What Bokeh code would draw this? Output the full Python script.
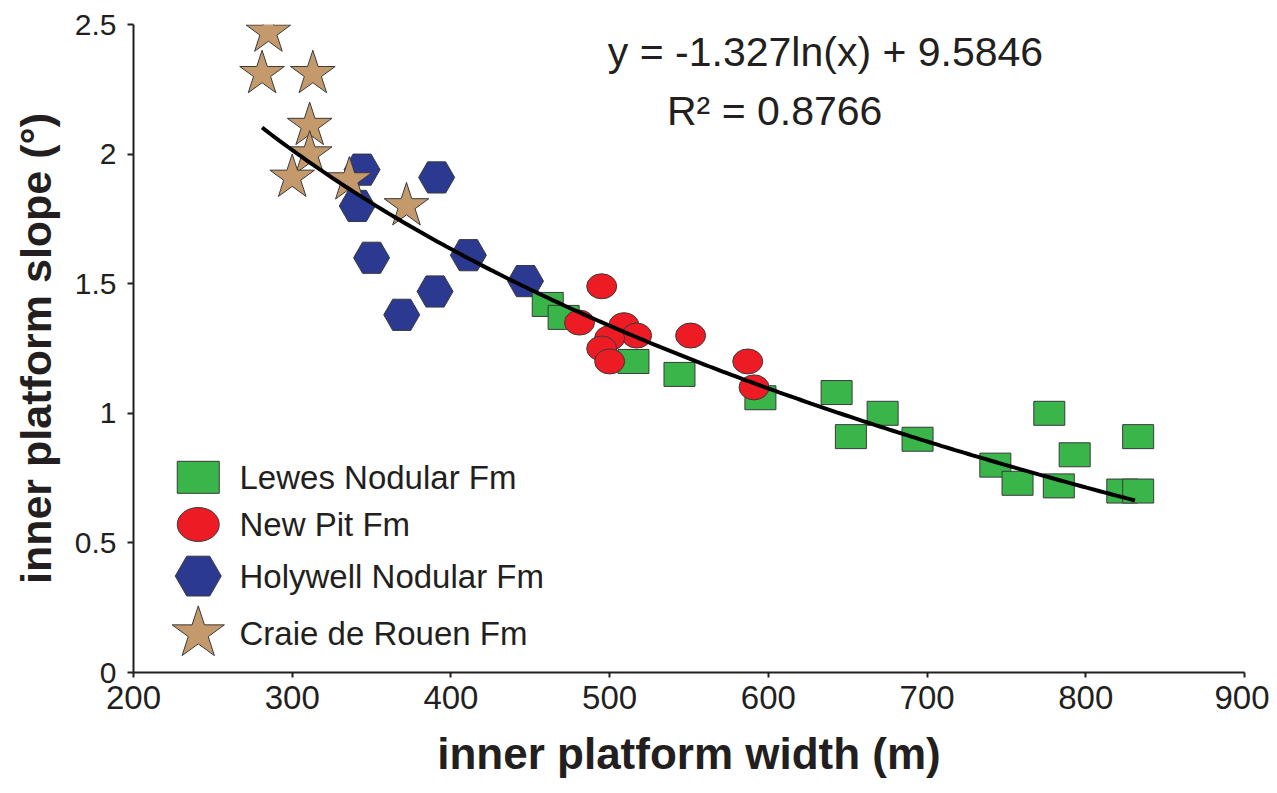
import numpy as np
from bokeh.plotting import figure
from bokeh.models import Range1d, Label, FixedTicker
from bokeh.embed import file_html
from bokeh.resources import INLINE

# ---------------- data ----------------
series_names = ["Lewes Nodular Fm", "New Pit Fm", "Holywell Nodular Fm", "Craie de Rouen Fm"]

lewes_width = [461, 471, 515, 544, 595, 643, 672, 652, 694, 743, 757, 783, 777, 793, 833, 823, 833]
lewes_slope = [1.42, 1.37, 1.20, 1.15, 1.06, 1.08, 1.00, 0.91, 0.90, 0.80, 0.73, 0.72, 1.00, 0.84, 0.91, 0.70, 0.70]

newpit_width = [495, 481, 509, 517, 500, 495, 500, 551, 587, 591]
newpit_slope = [1.49, 1.35, 1.34, 1.30, 1.29, 1.25, 1.20, 1.30, 1.20, 1.10]

holywell_width = [344, 391, 341, 350, 411, 390, 369, 447]
holywell_slope = [1.94, 1.91, 1.80, 1.60, 1.61, 1.47, 1.38, 1.51]

craie_width = [285, 281, 313, 311, 311, 300, 336, 372]
craie_slope = [2.47, 2.31, 2.31, 2.11, 2.00, 1.91, 1.90, 1.80]

x_ticks = [200, 300, 400, 500, 600, 700, 800, 900]
x_tick_labels = ["200", "300", "400", "500", "600", "700", "800", "900"]
y_ticks = [0, 0.5, 1, 1.5, 2, 2.5]
y_tick_labels = ["0", "0.5", "1", "1.5", "2", "2.5"]

fit_a = -1.327
fit_b = 9.5846
fit_x_start, fit_x_end = 281, 831
equation_text = "y = -1.327ln(x) + 9.5846"
r2_text = "R\u00b2 = 0.8766"

x_title = "inner platform width (m)"
y_title = "inner platform slope (\u00b0)"

# ---------------- styles ----------------
GREEN = "#39B54A"
RED = "#ED1C24"
BLUE = "#2B3990"
TAN = "#C49A6C"
EDGE = "#3a3a3a"
INK = "#231F20"
FONT = "Liberation Sans"

p = figure(width=1269, height=785,
           x_range=Range1d(200, 900), y_range=Range1d(0, 2.5),
           output_backend="svg", toolbar_location=None,
           min_border_left=133, min_border_right=25,
           min_border_top=24, min_border_bottom=113)
p.outline_line_color = None
p.grid.visible = False
p.background_fill_color = "white"
p.border_fill_color = "white"

p.xaxis.ticker = FixedTicker(ticks=x_ticks)
p.yaxis.ticker = FixedTicker(ticks=y_ticks)
p.xaxis.major_label_overrides = dict(zip(x_ticks, x_tick_labels))
p.yaxis.major_label_overrides = dict(zip(y_ticks, y_tick_labels))
p.xaxis.axis_label = x_title
p.yaxis.axis_label = y_title

for ax in (p.xaxis[0], p.yaxis[0]):
    ax.axis_line_color = INK
    ax.axis_line_width = 2
    ax.major_tick_line_color = INK
    ax.major_tick_line_width = 2
    ax.major_tick_in = 0
    ax.minor_tick_line_color = None
    ax.major_label_text_font = FONT
    ax.major_label_text_color = INK
    ax.axis_label_text_font = FONT
    ax.axis_label_text_font_style = "bold"
    ax.axis_label_text_color = INK

p.xaxis.major_tick_out = 5
p.yaxis.major_tick_out = 6
p.xaxis.major_label_text_font_size = "33px"
p.yaxis.major_label_text_font_size = "30px"
p.xaxis.major_label_standoff = 8
p.yaxis.major_label_standoff = 11
p.xaxis.axis_label_text_font_size = "44px"
p.yaxis.axis_label_text_font_size = "43px"
p.xaxis.axis_label_standoff = 17
p.yaxis.axis_label_standoff = 12

# ---------------- data marks ----------------
p.scatter(holywell_width, holywell_slope, marker="hex", size=36,
          fill_color=BLUE, line_color=EDGE, line_width=1)
p.scatter(craie_width, craie_slope, marker="star", size=47,
          fill_color=TAN, line_color=EDGE, line_width=1)
p.rect(lewes_width, lewes_slope, width=31, height=24,
       width_units="screen", height_units="screen",
       fill_color=GREEN, line_color=EDGE, line_width=1)
p.ellipse(newpit_width, newpit_slope, width=30, height=25,
          width_units="screen", height_units="screen",
          fill_color=RED, line_color=EDGE, line_width=1)

fx = np.linspace(fit_x_start, fit_x_end, 200)
fy = fit_a * np.log(fx) + fit_b
p.line(fx, fy, line_width=4, line_color="black")

# ---------------- equation ----------------
p.add_layout(Label(x=636, y=2.393, text=equation_text, text_align="center",
                   text_baseline="middle", text_font=FONT,
                   text_font_size="41px", text_color=INK))
p.add_layout(Label(x=604, y=2.168, text=r2_text, text_align="center",
                   text_baseline="middle", text_font=FONT,
                   text_font_size="41px", text_color=INK))

# ---------------- legend ----------------
leg_x = 240.8
leg_text_x = 266.8
leg_y = [0.753, 0.571, 0.372, 0.151]

p.rect([leg_x], [leg_y[0]], width=42, height=32, width_units="screen", height_units="screen",
       fill_color=GREEN, line_color=EDGE, line_width=1)
p.ellipse([leg_x], [leg_y[1]], width=42, height=34, width_units="screen", height_units="screen",
          fill_color=RED, line_color=EDGE, line_width=1)
p.scatter([leg_x], [leg_y[2]], marker="hex", size=46,
          fill_color=BLUE, line_color=EDGE, line_width=1)
p.scatter([leg_x], [leg_y[3]], marker="star", size=55,
          fill_color=TAN, line_color=EDGE, line_width=1)

for name, ly in zip(series_names, leg_y):
    p.add_layout(Label(x=leg_text_x, y=ly, text=name, text_align="left",
                       text_baseline="middle", text_font=FONT,
                       text_font_size="33px", text_color=INK))

open("out.html", "w").write(file_html(p, INLINE))
